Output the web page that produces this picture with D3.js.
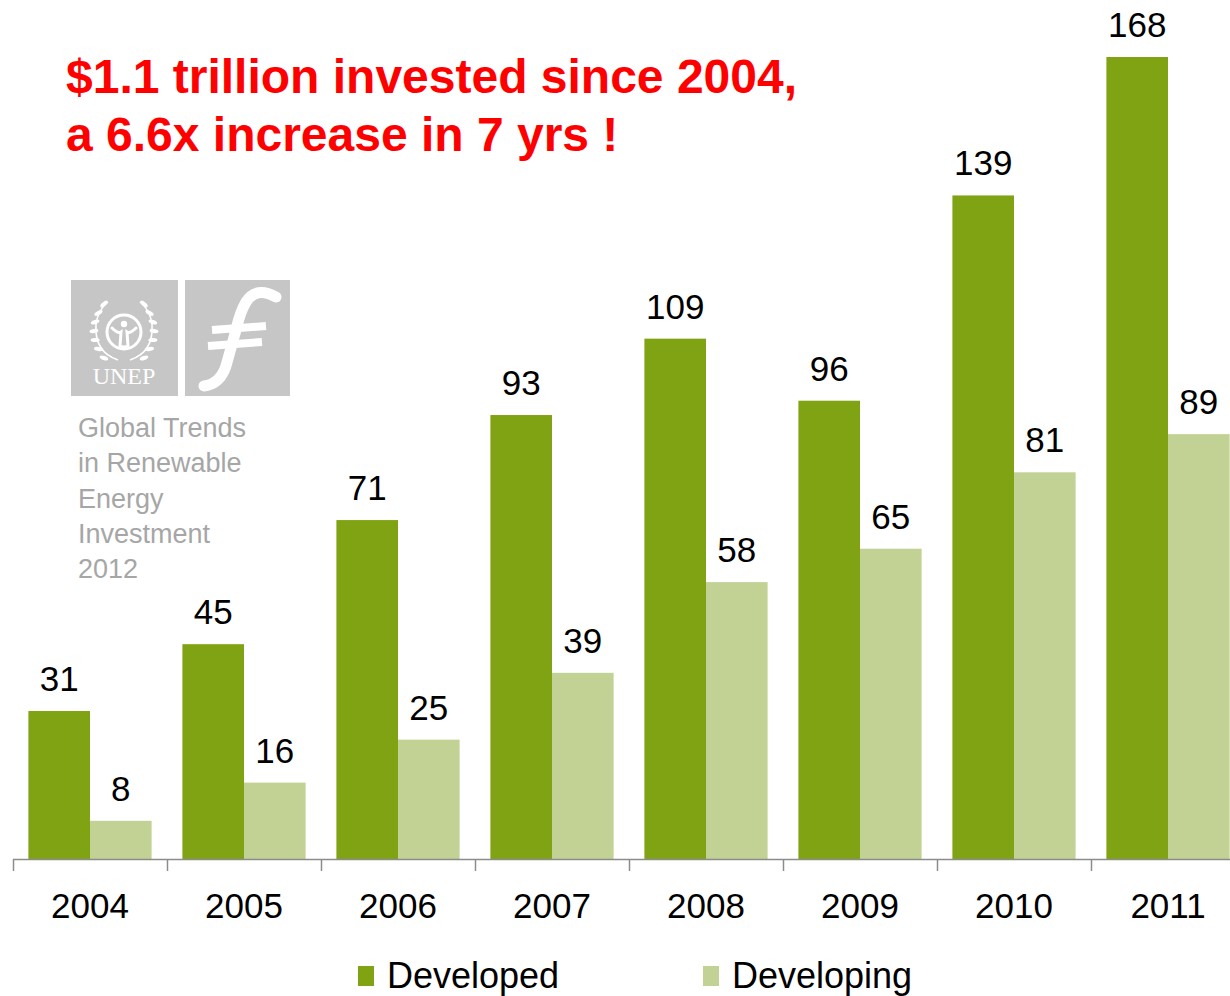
<!DOCTYPE html>
<html>
<head>
<meta charset="utf-8">
<script src="https://cdn.jsdelivr.net/npm/d3@7/dist/d3.min.js"></script>
<style>
  html, body { margin: 0; padding: 0; background: #fff; }
  svg { display: block; font-family: "Liberation Sans", Arial, sans-serif; }
</style>
</head>
<body>
<svg id="chart" width="1230" height="996"></svg>
<script>
// Renewable energy investment, $bn
const years = ["2004", "2005", "2006", "2007", "2008", "2009", "2010", "2011"];
const developed = [31, 45, 71, 93, 109, 96, 139, 168];
const developing = [8, 16, 25, 39, 58, 65, 81, 89];
const seriesNames = ["Developed", "Developing"];
const seriesColors = ["#80a313", "#c2d194"];
const headline = ["$1.1 trillion invested since 2004,", "a 6.6x increase in 7 yrs !"];
const reportLines = ["Global Trends", "in Renewable", "Energy", "Investment", "2012"];

const svg = d3.select("#chart");

const baseY = 859;
const x0 = d3.scaleBand().domain(years).range([13, 13 + 154 * years.length])
  .paddingInner(0.2).paddingOuter(0.1);
const x1 = d3.scaleBand().domain(seriesNames).range([0, x0.bandwidth()]);
const y = d3.scaleLinear().domain([0, 168]).range([baseY, 57]);
const color = d3.scaleOrdinal().domain(seriesNames).range(seriesColors);

const rows = years.map((yr, i) => ({
  year: yr,
  vals: [{ s: "Developed", v: developed[i] }, { s: "Developing", v: developing[i] }]
}));

// Bars
const groups = svg.append("g").selectAll("g").data(rows).join("g")
  .attr("transform", d => `translate(${x0(d.year)},0)`);

groups.selectAll("rect").data(d => d.vals).join("rect")
  .attr("x", d => x1(d.s))
  .attr("y", d => y(d.v))
  .attr("width", x1.bandwidth())
  .attr("height", d => baseY - y(d.v))
  .attr("fill", d => color(d.s));

// Value labels
groups.selectAll("text").data(d => d.vals).join("text")
  .attr("x", d => x1(d.s) + x1.bandwidth() / 2)
  .attr("y", d => y(d.v) - 20)
  .attr("text-anchor", "middle")
  .attr("font-size", 35)
  .attr("fill", "#000")
  .text(d => d.v);

// Category axis: labels centred on each group, ticks on group boundaries
const axis = svg.append("g").attr("transform", `translate(0,${baseY})`)
  .call(d3.axisBottom(x0).tickSize(0).tickPadding(34));
axis.select(".domain").remove();
axis.selectAll("text").attr("font-size", 35).attr("fill", "#000")
  .attr("font-family", "Liberation Sans, Arial, sans-serif");

const step = x0.step();
const bounds = d3.range(years.length + 1).map(i => 13 + i * step);
svg.append("line")
  .attr("x1", 13).attr("x2", 1230)
  .attr("y1", baseY + 0.5).attr("y2", baseY + 0.5)
  .attr("stroke", "#8c8c8c").attr("stroke-width", 1.5);
svg.append("g").selectAll("line").data(bounds).join("line")
  .attr("x1", d => d + 0.5).attr("x2", d => d + 0.5)
  .attr("y1", baseY).attr("y2", baseY + 12)
  .attr("stroke", "#8c8c8c").attr("stroke-width", 1.5);

// Legend
const legend = svg.append("g");
const legendX = [358, 703];
seriesNames.forEach((name, i) => {
  legend.append("rect")
    .attr("x", legendX[i]).attr("y", 966)
    .attr("width", 16).attr("height", 20)
    .attr("fill", color(name));
  legend.append("text")
    .attr("x", legendX[i] + 29).attr("y", 988)
    .attr("font-size", 36).attr("fill", "#000")
    .text(name);
});

// Headline
svg.append("g").selectAll("text").data(headline).join("text")
  .attr("x", 66).attr("y", (d, i) => 93 + i * 58)
  .attr("font-size", 48).attr("font-weight", "bold").attr("fill", "#ff0000")
  .text(d => d);

// Report badge
const badge = svg.append("g");
const grey = "#c6c6c6";
badge.append("rect").attr("x", 71).attr("y", 280).attr("width", 107).attr("height", 116).attr("fill", grey);
badge.append("rect").attr("x", 185).attr("y", 280).attr("width", 105).attr("height", 116).attr("fill", grey);

// emblem: globe with figure inside a laurel wreath
const em = badge.append("g").attr("transform", "translate(124,332)");
em.append("circle").attr("r", 17).attr("fill", "none").attr("stroke", "#fff").attr("stroke-width", 3);
em.append("circle").attr("cy", -8).attr("r", 3.2).attr("fill", "#fff");
em.append("path").attr("d", "M-12,-4 Q-6,2 -3,0 L-4,14 Q0,16 4,14 L3,0 Q6,2 12,-4")
  .attr("fill", "none").attr("stroke", "#fff").attr("stroke-width", 3).attr("stroke-linecap", "round");
[-1, 1].forEach(side => {
  const br = em.append("g").attr("transform", `scale(${side},1)`);
  br.append("path").attr("d", "M-6,28 Q-30,20 -28,-8 Q-26,-22 -16,-30")
    .attr("fill", "none").attr("stroke", "#fff").attr("stroke-width", 1.6);
  d3.range(7).forEach(k => {
    const t = k / 6;
    const px = -27 + 10 * Math.pow(2 * t - 1, 2);
    const py = -28 + t * 54;
    br.append("ellipse").attr("cx", px - 3).attr("cy", py)
      .attr("rx", 4.5).attr("ry", 2)
      .attr("transform", `rotate(${-40 + t * 60},${px - 3},${py})`)
      .attr("fill", "#fff");
  });
});
badge.append("text").attr("x", 124).attr("y", 384).attr("text-anchor", "middle")
  .attr("font-family", "Liberation Serif, 'DejaVu Serif', serif").attr("font-size", 24)
  .attr("fill", "#fff").text("UNEP");

// stylised f with two cross strokes
badge.append("path")
  .attr("d", "M276,297 Q256,286 246,302 Q240,312 236,330 L226,366 Q220,384 204,386")
  .attr("fill", "none").attr("stroke", "#fff").attr("stroke-width", 11).attr("stroke-linecap", "round");
badge.append("path").attr("d", "M212,330 L266,326").attr("stroke", "#fff").attr("stroke-width", 8);
badge.append("path").attr("d", "M208,346 L262,342").attr("stroke", "#fff").attr("stroke-width", 8);

badge.append("g").selectAll("text").data(reportLines).join("text")
  .attr("x", 78).attr("y", (d, i) => 437 + i * 35.3)
  .attr("font-size", 27).attr("fill", "#a6a6a6")
  .text(d => d);
</script>
</body>
</html>
